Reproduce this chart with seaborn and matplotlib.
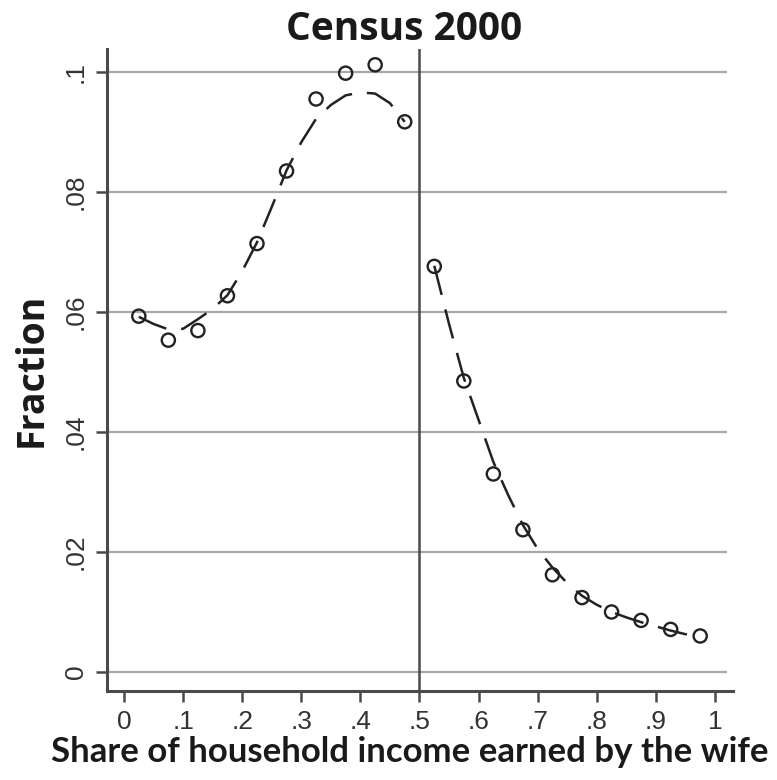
import numpy as np
import pandas as pd
import matplotlib
matplotlib.use("Agg")
import matplotlib.pyplot as plt
import seaborn as sns

# Binned share of household income earned by the wife (bin midpoints)
bin_mid = [0.025, 0.075, 0.125, 0.175, 0.225, 0.275, 0.325, 0.375, 0.425, 0.475,
           0.525, 0.575, 0.625, 0.675, 0.725, 0.775, 0.825, 0.875, 0.925, 0.975]
fraction = [0.0593, 0.0553, 0.0569, 0.0627, 0.0714, 0.0835, 0.0955, 0.0998, 0.1012, 0.0917,
            0.0676, 0.0485, 0.0330, 0.0237, 0.0162, 0.0124, 0.0100, 0.0086, 0.0071, 0.0060]

# Smoothed fit, estimated separately below and above one half
fit_left_x = [0.025, 0.05, 0.075, 0.10, 0.125, 0.15, 0.175, 0.20, 0.225, 0.25,
              0.275, 0.30, 0.325, 0.35, 0.375, 0.40, 0.425, 0.45, 0.475]
fit_left_y = [0.0592, 0.0580, 0.0571, 0.0572, 0.0588, 0.0605, 0.0628, 0.0668, 0.0716, 0.0775,
              0.0836, 0.0883, 0.0922, 0.0945, 0.0961, 0.0966, 0.0964, 0.0948, 0.0917]
fit_right_x = [0.525, 0.55, 0.575, 0.60, 0.625, 0.65, 0.675, 0.70, 0.725, 0.75,
               0.775, 0.80, 0.825, 0.85, 0.875, 0.90, 0.925, 0.95, 0.975]
fit_right_y = [0.0677, 0.0580, 0.0490, 0.0420, 0.0350, 0.0295, 0.0245, 0.0205, 0.0174, 0.0148,
               0.0127, 0.0112, 0.0100, 0.0091, 0.0083, 0.0076, 0.0069, 0.0063, 0.0058]

x_ticks = [0, 0.1, 0.2, 0.3, 0.4, 0.5, 0.6, 0.7, 0.8, 0.9, 1.0]
x_tick_labels = ["0", ".1", ".2", ".3", ".4", ".5", ".6", ".7", ".8", ".9", "1"]
y_ticks = [0, 0.02, 0.04, 0.06, 0.08, 0.10]
y_tick_labels = ["0", ".02", ".04", ".06", ".08", ".1"]

sns.set_theme(style="white")
plt.rcParams["font.family"] = ["Liberation Sans", "DejaVu Sans"]

ink = "#222222"
axis_col = "#4a4a4a"
grid_col = "#a8a8a8"

fig = plt.figure(figsize=(7.77, 7.80), dpi=100)
ax = fig.add_axes([107 / 777, 1 - 691 / 780, 626 / 777, 642 / 780])

xmin, xmax = -0.0288, 1.0305
ymin, ymax = -0.00317, 0.10383

# Horizontal grid lines stop short of the right edge
ax.hlines(y_ticks, xmin, 1.0203, colors=grid_col, linewidth=1.6, zorder=1)
# Threshold at equal earnings
ax.axvline(0.5, color=axis_col, linewidth=1.8, zorder=2)

dash = (0, (12, 6))
left_df = pd.DataFrame({"x": fit_left_x, "y": fit_left_y})
right_df = pd.DataFrame({"x": fit_right_x, "y": fit_right_y})
sns.lineplot(data=left_df, x="x", y="y", ax=ax, color=ink, linewidth=1.8,
             linestyle=dash, estimator=None, sort=False, zorder=3)
sns.lineplot(data=right_df, x="x", y="y", ax=ax, color=ink, linewidth=1.8,
             linestyle=dash, estimator=None, sort=False, zorder=3)

pts = pd.DataFrame({"x": bin_mid, "y": fraction})
sns.scatterplot(data=pts, x="x", y="y", ax=ax, marker="o", s=90,
                facecolor="none", edgecolor=ink, linewidth=1.7, zorder=4)

ax.set_xlim(xmin, xmax)
ax.set_ylim(ymin, ymax)

ax.set_xticks(x_ticks)
ax.set_xticklabels(x_tick_labels)
ax.set_yticks(y_ticks)
ax.set_yticklabels(y_tick_labels, rotation=90, va="center")

ax.tick_params(axis="both", direction="out", length=8, width=1.8, color=axis_col,
               labelsize=19, labelcolor="#333333", pad=6)
ax.tick_params(left=True, bottom=True)

for side in ["top", "right"]:
    ax.spines[side].set_visible(False)
for side in ["left", "bottom"]:
    ax.spines[side].set_color(axis_col)
    ax.spines[side].set_linewidth(2.2)

ax.set_xlabel("")
ax.set_ylabel("")

fig.text(404 / 777, 1 - 29 / 780, "Census 2000", ha="center", va="center",
         fontsize=28, fontweight="bold", color="#1a1a1a",
         family=["Open Sans", "DejaVu Sans"])
fig.text(32 / 777, 1 - 370 / 780, "Fraction", ha="center", va="center", rotation=90,
         fontsize=27, fontweight="bold", color="#1a1a1a",
         family=["Open Sans", "DejaVu Sans"])
fig.text(410 / 777, 1 - 752 / 780, "Share of household income earned by the wife",
         ha="center", va="center", fontsize=25, fontweight="bold", color="#1a1a1a",
         family=["Lato", "DejaVu Sans"])

fig.savefig("out.png", dpi=100, facecolor="white")
